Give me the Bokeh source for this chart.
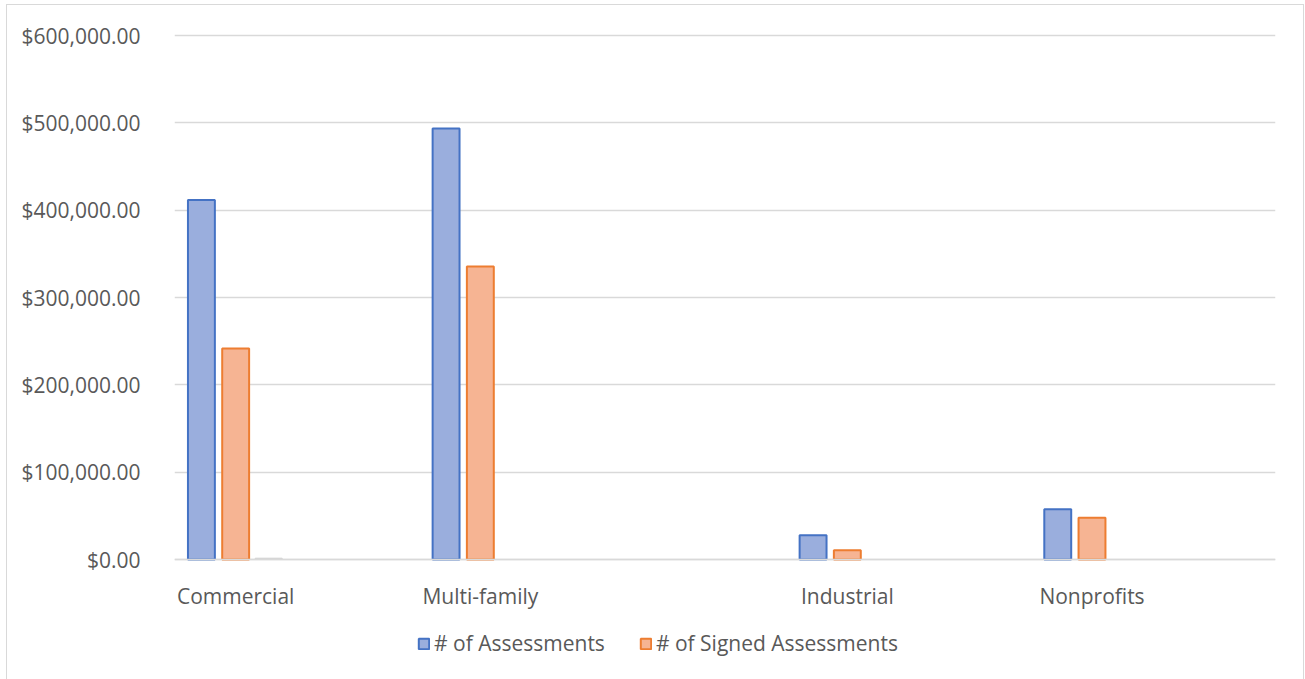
from bokeh.plotting import figure
from bokeh.layouts import column
from bokeh.models import (ColumnDataSource, FactorRange, Range1d, FixedTicker,
                          NumeralTickFormatter, Legend, LegendItem)
from bokeh.transform import dodge
from bokeh.embed import file_html
from bokeh.resources import INLINE

NaN = float("nan")

# Categories (blank slots are empty categories in the source sheet)
categories = ["Commercial", " ", "Multi-family", "  ", "   ", "Industrial", "    ", "Nonprofits", "     "]
assessments = [411500, NaN, 493500, NaN, NaN, 27800, NaN, 57600, NaN]
signed_assessments = [241600, NaN, 335500, NaN, NaN, 10700, NaN, 47700, NaN]
third_series = [1500, NaN, NaN, NaN, NaN, NaN, NaN, NaN, NaN]
y_ticks = [0, 100000, 200000, 300000, 400000, 500000, 600000]

source = ColumnDataSource(dict(cat=categories, a=assessments, s=signed_assessments, t=third_series))

FONT = "Open Sans"
TXT = "#595959"

# frame spans to the bottom of the window; value 0 sits at 559px, 600k at 35px
PX_PER_UNIT = 524 / 600000
p = figure(frame_width=1101, frame_height=647,
           x_range=FactorRange(factors=categories, range_padding=0),
           y_range=Range1d(-120 / PX_PER_UNIT, 600000 + 3 / PX_PER_UNIT),
           output_backend="svg", toolbar_location=None,
           min_border_left=167, min_border_right=28, min_border_top=27, min_border_bottom=0)

p.outline_line_color = None
p.background_fill_color = "white"
p.border_fill_color = "white"

r1 = p.vbar(x=dodge("cat", -0.28, range=p.x_range), top="a", width=0.22, source=source,
            fill_color="#9aaedd", line_color="#4472c4", line_width=2)
r2 = p.vbar(x=dodge("cat", 0.0, range=p.x_range), top="s", width=0.22, source=source,
            fill_color="#f6b493", line_color="#ed7d31", line_width=2)
r3 = p.vbar(x=dodge("cat", 0.27, range=p.x_range), top="t", width=0.22, source=source,
            fill_color="#dcdcdc", line_color="#d0d0d0", line_width=1)

# Axes
p.yaxis.ticker = FixedTicker(ticks=y_ticks)
p.yaxis.formatter = NumeralTickFormatter(format="$0,0.00")
p.yaxis.axis_line_color = None
p.yaxis.major_tick_line_color = None
p.yaxis.minor_tick_line_color = None
p.yaxis.major_label_text_font = FONT
p.yaxis.major_label_text_font_size = "21px"
p.yaxis.major_label_text_color = TXT
p.yaxis.major_label_standoff = 28

p.xaxis.fixed_location = 0
p.xaxis.axis_line_color = "#d9d9d9"
p.xaxis.axis_line_width = 1.5
p.xaxis.major_tick_line_color = None
p.xaxis.minor_tick_line_color = None
p.xaxis.major_label_text_font = FONT
p.xaxis.major_label_text_font_size = "21px"
p.xaxis.major_label_text_color = TXT
p.xaxis.major_label_standoff = 16

p.xgrid.grid_line_color = None
p.ygrid.grid_line_color = "#d9d9d9"
p.ygrid.grid_line_width = 1.5

legend = Legend(items=[LegendItem(label="# of Assessments", renderers=[r1]),
                       LegendItem(label="# of Signed Assessments", renderers=[r2])],
                orientation="horizontal", location=(243, 22),
                label_text_font=FONT, label_text_font_size="21px", label_text_color=TXT,
                glyph_width=13, glyph_height=13, label_standoff=4, spacing=34,
                border_line_color=None, background_fill_alpha=0, padding=0, margin=0)
p.add_layout(legend, "center")

# chart area border, as in the reference screenshot
root = column(p, styles={"border": "1px solid #d9d9d9", "margin-left": "6px", "margin-top": "4px"})

open("out.html", "w").write(file_html(root, INLINE))
